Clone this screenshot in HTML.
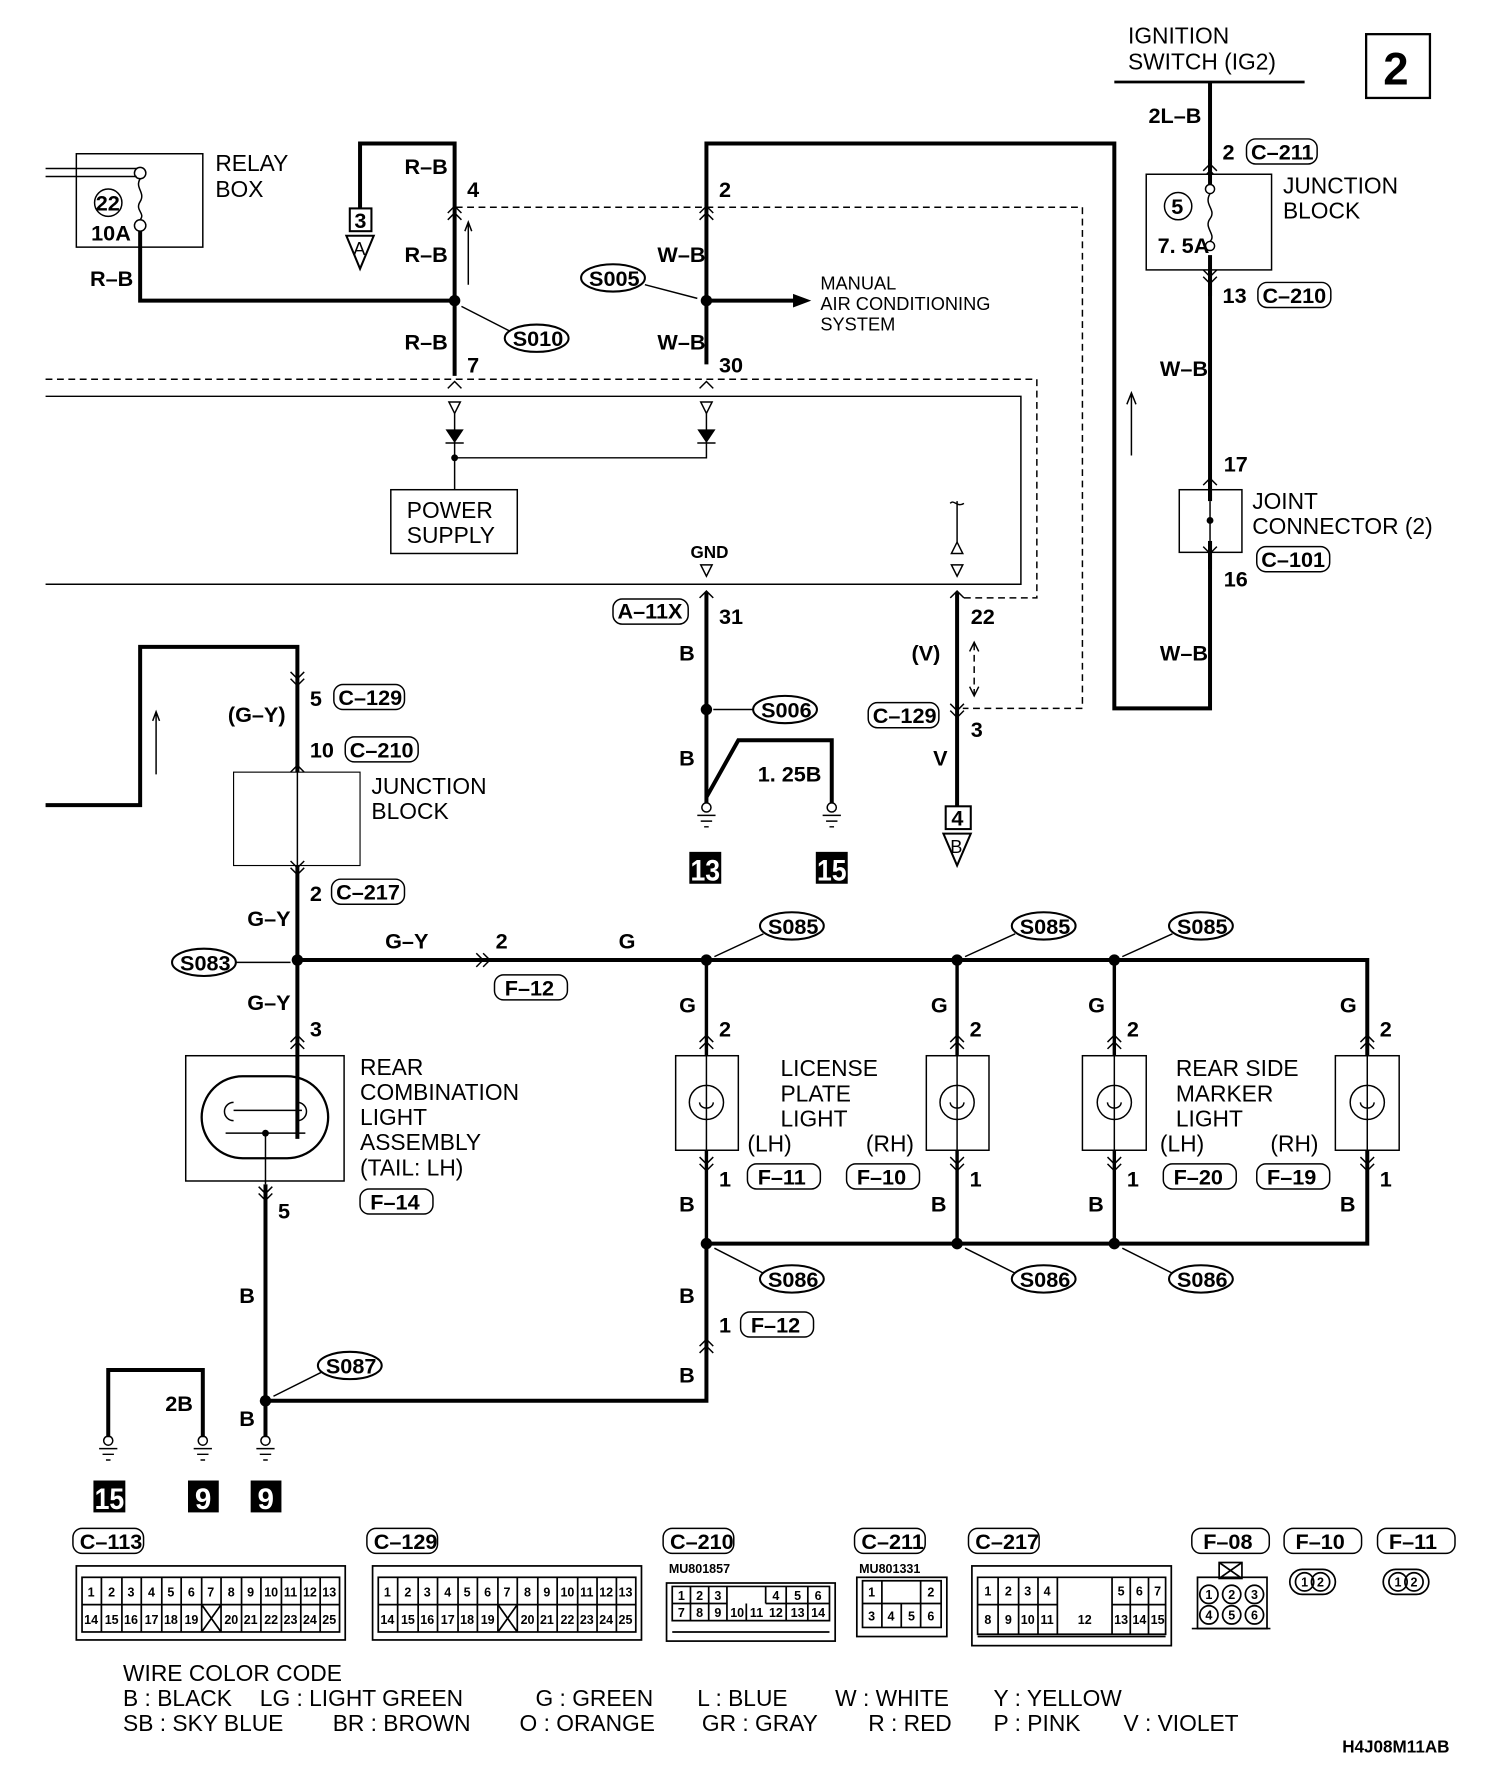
<!DOCTYPE html>
<html><head><meta charset="utf-8"><style>
html,body{margin:0;padding:0;background:#fff}
svg{display:block}
text{font-family:"Liberation Sans",sans-serif;fill:#000}
.b{font-weight:bold;font-size:19px}
.n{font-size:20px}
.s{font-size:16px}
.c{font-size:11px;font-weight:bold;text-anchor:middle}
.w{font-size:26px;font-weight:bold;fill:#fff}
.k{fill:none;stroke:#000;stroke-width:3.5}
.t{fill:none;stroke:#000;stroke-width:1.3}
.d{fill:none;stroke:#000;stroke-width:1.3;stroke-dasharray:6 4}
</style></head><body>
<svg width="1504" height="1788" viewBox="0 0 1320 1570" preserveAspectRatio="none" xmlns="http://www.w3.org/2000/svg">
<!-- top right -->
<text class="n" x="990" y="38">IGNITION</text>
<text class="n" x="990" y="61">SWITCH (IG2)</text>
<line class="k" x1="978" y1="72" x2="1145" y2="72" style="stroke-width:2.5"/>
<rect x="1199" y="30" width="56" height="56" class="t" style="stroke-width:2"/>
<text x="1214" y="74" style="font-size:40px;font-weight:bold">2</text>
<path class="k" d="M1062 72V622H978V126H620V320"/>
<text class="b" x="1008" y="108">2L–B</text>
<path class="t" d="M1056 150l6-6 6 6M1056 156l6-6 6 6"/>
<text class="b" x="1073" y="140">2</text>
<rect x="1094" y="122" width="62" height="22" rx="8" class="t"/><text class="b" x="1098" y="140">C–211</text>
<rect x="1006" y="153" width="110" height="84" class="t" style="fill:#fff"/>
<line class="k" x1="1062" y1="140" x2="1062" y2="260"/>
<rect x="1055" y="162" width="14" height="62" fill="#fff"/>
<circle cx="1062" cy="166" r="4" class="t" fill="#fff"/><circle cx="1062" cy="216" r="4" class="t" fill="#fff"/>
<path class="t" d="M1062 170c-6 10 6 14 0 22s6 14 0 20"/>
<circle cx="1034" cy="181" r="12" class="t"/><text class="b" x="1028" y="188">5</text>
<text class="b" x="1016" y="222">7. 5A</text>
<text class="n" x="1126" y="170">JUNCTION</text><text class="n" x="1126" y="192">BLOCK</text>
<path class="t" d="M1056 243l6 6 6-6M1056 237l6 6 6-6"/>
<text class="b" x="1073" y="266">13</text>
<rect x="1104" y="248" width="64" height="22" rx="8" class="t"/><text class="b" x="1108" y="266">C–210</text>
<text class="b" x="1018" y="330">W–B</text>
<path class="t" d="M993 400V345M989 355l4-10 4 10"/>
<text class="b" x="1074" y="414">17</text>
<rect x="1035" y="430" width="55" height="55" class="t" fill="#fff"/>
<line class="k" x1="1062" y1="420" x2="1062" y2="500"/>
<rect x="1059" y="440" width="6" height="35" fill="#fff"/>
<line class="t" x1="1062" y1="440" x2="1062" y2="475"/>
<circle cx="1062" cy="457" r="3"/>
<path class="t" d="M1056 426l6-6 6 6M1056 480l6 6 6-6"/>
<text class="n" x="1099" y="447">JOINT</text><text class="n" x="1099" y="469">CONNECTOR (2)</text>
<rect x="1103" y="480" width="64" height="22" rx="8" class="t"/><text class="b" x="1107" y="498">C–101</text>
<text class="b" x="1074" y="515">16</text>
<text class="b" x="1018" y="580">W–B</text>
<!-- dashed -->
<path class="d" d="M400 182H950V622H845"/>
<path class="d" d="M40 333H910V525H845"/>
<!-- relay box -->
<rect x="67" y="135" width="111" height="82" class="t"/>
<path class="t" d="M40 148H120M40 155H120"/>
<circle cx="123" cy="152" r="5" class="t" fill="#fff"/><circle cx="123" cy="198" r="5" class="t" fill="#fff"/>
<path class="t" d="M123 157c-5 8 5 12 0 20s5 10 0 16"/>
<circle cx="95" cy="178" r="12" class="t"/><text class="b" x="84" y="185">22</text>
<text class="b" x="80" y="211">10A</text>
<text class="n" x="189" y="150">RELAY</text><text class="n" x="189" y="173">BOX</text>
<path class="k" d="M123 203V264H399"/>
<text class="b" x="79" y="251">R–B</text>
<path class="k" d="M399 330V126H316V183"/>
<rect x="307" y="183" width="19" height="20" class="t" style="stroke-width:1.8" fill="#fff"/><text class="b" x="311" y="200">3</text>
<path class="t" d="M304 207H328L316 236Z" style="stroke-width:1.8"/><text class="s" x="310" y="224">A</text>
<text class="b" x="355" y="153">R–B</text><text class="b" x="355" y="230">R–B</text><text class="b" x="355" y="307">R–B</text>
<text class="b" x="410" y="173">4</text><text class="b" x="410" y="327">7</text>
<path class="t" d="M393 187l6-6 6 6M393 193l6-6 6 6"/>
<path class="t" d="M411 250V195M408 203l3-8 3 8"/>
<circle cx="399" cy="264" r="5"/>
<ellipse cx="471" cy="297" rx="28" ry="12" class="t" style="stroke-width:1.8"/><text class="b" x="450" y="304">S010</text>
<path class="t" d="M448 291L405 269"/>
<path class="t" d="M393 341l6-6 6 6M614 341l6-6 6 6"/>
<!-- S005 -->
<text class="b" x="631" y="173">2</text>
<path class="t" d="M614 187l6-6 6 6M614 193l6-6 6 6"/>
<text class="b" x="577" y="230">W–B</text><text class="b" x="577" y="307">W–B</text>
<text class="b" x="631" y="327">30</text>
<circle cx="620" cy="264" r="5"/>
<path class="k" d="M620 264H698"/><path d="M696 258L712 264L696 270Z"/>
<ellipse cx="538" cy="244" rx="28" ry="12" class="t" style="stroke-width:1.8"/><text class="b" x="517" y="251">S005</text>
<path class="t" d="M566 250L612 262"/>
<text class="s" x="720" y="254">MANUAL</text><text class="s" x="720" y="272">AIR CONDITIONING</text><text class="s" x="720" y="290">SYSTEM</text>
<!-- ECU -->
<path class="t" d="M40 348H896V513H40"/>
<path class="t" d="M394 353h10l-5 10zM615 353h10l-5 10z"/>
<path class="t" d="M399 363V430M620 363V402H399"/>
<path d="M391 377h16l-8 12zM612 377h16l-8 12z"/><path class="t" d="M391 389h16M612 389h16"/>
<circle cx="399" cy="402" r="3"/>
<rect x="343" y="430" width="111" height="56" class="t"/>
<text class="n" x="357" y="455">POWER</text><text class="n" x="357" y="477">SUPPLY</text>
<text class="b" x="606" y="490" style="font-size:15px">GND</text>
<path class="t" d="M615 496h10l-5 10zM835 496h10l-5 10zM835 486h10l-5-10z"/>
<path class="t" d="M840 476V440M834 442c3-4 6 4 12 0"/>
<!-- GND 31 -->
<path class="t" d="M614 525l6-6 6 6M834 525l6-6 6 6"/>
<path class="k" d="M620 520V623L620 705M620 700L648 650H730V705"/>
<rect x="538" y="526" width="66" height="22" rx="8" class="t"/><text class="b" x="542" y="543">A–11X</text>
<text class="b" x="631" y="548">31</text>
<text class="b" x="596" y="580">B</text><text class="b" x="596" y="672">B</text>
<circle cx="620" cy="623" r="5"/>
<ellipse cx="689" cy="623" rx="28" ry="12" class="t" style="stroke-width:1.8"/><text class="b" x="668" y="630">S006</text>
<path class="t" d="M661 623H626"/>
<text class="b" x="665" y="686">1. 25B</text>
<g class="t"><circle cx="620" cy="709" r="4"/><path d="M612 716h16M615 721h10M618 726h4"/><circle cx="730" cy="709" r="4"/><path d="M722 716h16M725 721h10M728 726h4"/></g>
<rect x="605" y="748" width="28" height="28"/><text class="w" x="606" y="773" textLength="26" lengthAdjust="spacingAndGlyphs">13</text>
<rect x="716" y="748" width="28" height="28"/><text class="w" x="717" y="773" textLength="26" lengthAdjust="spacingAndGlyphs">15</text>
<!-- 22 -->
<path class="k" d="M840 520V708"/>
<text class="b" x="852" y="548">22</text>
<text class="b" x="800" y="580">(V)</text>
<path class="d" d="M855 565V610"/><path class="t" d="M851 572l4-8 4 8M851 603l4 8 4-8"/>
<path class="t" d="M834 618l6 6 6-6M834 624l6 6 6-6"/>
<rect x="762" y="617" width="62" height="22" rx="8" class="t"/><text class="b" x="766" y="635">C–129</text>
<text class="b" x="852" y="647">3</text><text class="b" x="819" y="672">V</text>
<rect x="830" y="708" width="22" height="20" class="t" style="stroke-width:1.8" fill="#fff"/><text class="b" x="835" y="725">4</text>
<path class="t" d="M828 732H852L840 760Z" style="stroke-width:1.8"/><text class="s" x="834" y="749">B</text>
<!-- left junction -->
<path class="k" d="M40 707H123V568H261V1000"/>
<path class="t" d="M137 680V625M134 633l3-8 3 8"/>
<path class="t" d="M255 590l6 6 6-6M255 596l6 6 6-6"/>
<text class="b" x="272" y="620">5</text>
<rect x="293" y="601" width="62" height="22" rx="8" class="t"/><text class="b" x="297" y="619">C–129</text>
<text class="b" x="200" y="634">(G–Y)</text>
<text class="b" x="272" y="665">10</text>
<rect x="303" y="647" width="64" height="22" rx="8" class="t"/><text class="b" x="307" y="665">C–210</text>
<rect x="205" y="678" width="111" height="82" style="fill:#fff;stroke:#000;stroke-width:1"/>
<line class="t" x1="261" y1="672" x2="261" y2="770"/>
<path class="t" d="M255 678l6-6 6 6M255 756l6 6 6-6M255 762l6 6 6-6"/>
<text class="n" x="326" y="697">JUNCTION</text><text class="n" x="326" y="719">BLOCK</text>
<text class="b" x="272" y="791">2</text>
<rect x="291" y="772" width="64" height="22" rx="8" class="t"/><text class="b" x="295" y="790">C–217</text>
<text class="b" x="217" y="813">G–Y</text>
<ellipse cx="179" cy="845" rx="28" ry="12" class="t" style="stroke-width:1.8"/><text class="b" x="158" y="852">S083</text>
<path class="t" d="M207 845H255"/>
<circle cx="261" cy="843" r="5"/>
<path class="k" d="M261 843H1200V1092H620"/>
<text class="b" x="338" y="833">G–Y</text><text class="b" x="435" y="833">2</text><text class="b" x="543" y="833">G</text>
<path class="t" d="M418 837l6 6-6 6M424 837l6 6-6 6"/>
<rect x="434" y="856" width="64" height="22" rx="8" class="t"/><text class="b" x="443" y="874">F–12</text>
<g><circle cx="620" cy="843" r="5"/><circle cx="840" cy="843" r="5"/><circle cx="978" cy="843" r="5"/>
<circle cx="620" cy="1092" r="5"/><circle cx="840" cy="1092" r="5"/><circle cx="978" cy="1092" r="5"/><circle cx="233" cy="1230" r="5"/></g>
<g class="t" style="stroke-width:1.8">
<ellipse cx="695" cy="813" rx="28" ry="12"/><ellipse cx="916" cy="813" rx="28" ry="12"/><ellipse cx="1054" cy="813" rx="28" ry="12"/>
<ellipse cx="695" cy="1123" rx="28" ry="12"/><ellipse cx="916" cy="1123" rx="28" ry="12"/><ellipse cx="1054" cy="1123" rx="28" ry="12"/>
<ellipse cx="307" cy="1199" rx="28" ry="12"/></g>
<text class="b" x="674" y="820">S085</text><text class="b" x="895" y="820">S085</text><text class="b" x="1033" y="820">S085</text>
<text class="b" x="674" y="1130">S086</text><text class="b" x="895" y="1130">S086</text><text class="b" x="1033" y="1130">S086</text>
<text class="b" x="286" y="1206">S087</text>
<path class="t" d="M670 820L627 840M891 820L847 840M1029 820L985 840M670 1118L627 1096M891 1118L847 1096M1029 1118L985 1096M282 1205L240 1226"/>
<!-- rear combo -->
<text class="b" x="217" y="887">G–Y</text><text class="b" x="272" y="910">3</text>
<path class="t" d="M255 915l6-6 6 6M255 921l6-6 6 6"/>
<rect x="163" y="927" width="139" height="110" class="t"/>
<rect x="177" y="945" width="111" height="72" rx="36" class="t" style="stroke-width:2"/>
<path class="t" d="M261 925V975M233 995V1040M205 975h60M205 968a8 8 0 0 0 0 16M261 968a8 8 0 0 1 0 16M198 995h70"/>
<circle cx="233" cy="995" r="3"/>
<text class="n" x="316" y="944">REAR</text><text class="n" x="316" y="966">COMBINATION</text><text class="n" x="316" y="988">LIGHT</text><text class="n" x="316" y="1010">ASSEMBLY</text><text class="n" x="316" y="1032">(TAIL: LH)</text>
<rect x="316" y="1044" width="64" height="22" rx="8" class="t"/><text class="b" x="325" y="1062">F–14</text>
<path class="t" d="M227 1042l6 6 6-6M227 1048l6 6 6-6"/>
<path class="k" d="M233 1040V1262M233 1230H620V1092"/>
<text class="b" x="244" y="1070">5</text><text class="b" x="210" y="1144">B</text><text class="b" x="210" y="1252">B</text>
<path class="k" d="M95 1262V1203H178V1262"/>
<text class="b" x="145" y="1239">2B</text>
<g class="t"><circle cx="95" cy="1265" r="4"/><path d="M87 1272h16M90 1277h10M93 1282h4"/><circle cx="178" cy="1265" r="4"/><path d="M170 1272h16M173 1277h10M176 1282h4"/><circle cx="233" cy="1265" r="4"/><path d="M225 1272h16M228 1277h10M231 1282h4"/></g>
<rect x="82" y="1300" width="28" height="28"/><text class="w" x="83" y="1325" textLength="26" lengthAdjust="spacingAndGlyphs">15</text>
<rect x="165" y="1300" width="27" height="28"/><text class="w" x="171" y="1325">9</text>
<rect x="220" y="1300" width="27" height="28"/><text class="w" x="226" y="1325">9</text>
<text class="b" x="596" y="1144">B</text><text class="b" x="596" y="1214">B</text><text class="b" x="631" y="1170">1</text>
<rect x="650" y="1152" width="64" height="22" rx="8" class="t"/><text class="b" x="659" y="1170">F–12</text>
<path class="t" d="M614 1182l6-6 6 6M614 1188l6-6 6 6"/>
<!-- lamps -->
<g>
<path class="k" d="M620 843V1092M840 843V1092M978 843V1092M1200 843V1092" style="stroke-width:3"/>
<g class="t" style="fill:#fff">
<rect x="593" y="927" width="55" height="83"/><rect x="813" y="927" width="55" height="83"/><rect x="950" y="927" width="56" height="83"/><rect x="1172" y="927" width="56" height="83"/>
<circle cx="620" cy="968" r="15"/><circle cx="840" cy="968" r="15"/><circle cx="978" cy="968" r="15"/><circle cx="1200" cy="968" r="15"/>
</g>
<path class="t" d="M620 927V1010M840 927V1010M978 927V1010M1200 927V1010M614 968a6 5 0 1 0 12 0M834 968a6 5 0 1 0 12 0M972 968a6 5 0 1 0 12 0M1194 968a6 5 0 1 0 12 0"/>
<path class="t" d="M614 915l6-6 6 6M614 921l6-6 6 6M834 915l6-6 6 6M834 921l6-6 6 6M972 915l6-6 6 6M972 921l6-6 6 6M1194 915l6-6 6 6M1194 921l6-6 6 6M614 1016l6 6 6-6M614 1022l6 6 6-6M834 1016l6 6 6-6M834 1022l6 6 6-6M972 1016l6 6 6-6M972 1022l6 6 6-6M1194 1016l6 6 6-6M1194 1022l6 6 6-6"/>
</g>
<text class="b" x="596" y="889">G</text><text class="b" x="817" y="889">G</text><text class="b" x="955" y="889">G</text><text class="b" x="1176" y="889">G</text>
<text class="b" x="631" y="910">2</text><text class="b" x="851" y="910">2</text><text class="b" x="989" y="910">2</text><text class="b" x="1211" y="910">2</text>
<text class="b" x="631" y="1042">1</text><text class="b" x="851" y="1042">1</text><text class="b" x="989" y="1042">1</text><text class="b" x="1211" y="1042">1</text>
<text class="b" x="596" y="1064">B</text><text class="b" x="817" y="1064">B</text><text class="b" x="955" y="1064">B</text><text class="b" x="1176" y="1064">B</text>
<text class="n" x="685" y="945">LICENSE</text><text class="n" x="685" y="967">PLATE</text><text class="n" x="685" y="989">LIGHT</text>
<text class="n" x="656" y="1011">(LH)</text><text class="n" x="760" y="1011">(RH)</text>
<rect x="656" y="1022" width="64" height="22" rx="8" class="t"/><text class="b" x="665" y="1040">F–11</text>
<rect x="743" y="1022" width="64" height="22" rx="8" class="t"/><text class="b" x="752" y="1040">F–10</text>
<text class="n" x="1032" y="945">REAR SIDE</text><text class="n" x="1032" y="967">MARKER</text><text class="n" x="1032" y="989">LIGHT</text>
<text class="n" x="1018" y="1011">(LH)</text><text class="n" x="1115" y="1011">(RH)</text>
<rect x="1021" y="1022" width="64" height="22" rx="8" class="t"/><text class="b" x="1030" y="1040">F–20</text>
<rect x="1103" y="1022" width="64" height="22" rx="8" class="t"/><text class="b" x="1112" y="1040">F–19</text>
<!-- connector legends -->
<g class="t">
<rect x="64" y="1342" width="62" height="22" rx="8"/><rect x="322" y="1342" width="62" height="22" rx="8"/><rect x="582" y="1342" width="62" height="22" rx="8"/><rect x="750" y="1342" width="62" height="22" rx="8"/><rect x="850" y="1342" width="62" height="22" rx="8"/><rect x="1046" y="1342" width="68" height="22" rx="8"/><rect x="1127" y="1342" width="68" height="22" rx="8"/><rect x="1209" y="1342" width="68" height="22" rx="8"/>
</g>
<text class="b" x="70" y="1360">C–113</text><text class="b" x="328" y="1360">C–129</text><text class="b" x="588" y="1360">C–210</text><text class="b" x="756" y="1360">C–211</text><text class="b" x="856" y="1360">C–217</text><text class="b" x="1056" y="1360">F–08</text><text class="b" x="1137" y="1360">F–10</text><text class="b" x="1219" y="1360">F–11</text>
<text x="587" y="1381" style="font-size:11px;font-weight:bold">MU801857</text>
<text x="754" y="1381" style="font-size:11px;font-weight:bold">MU801331</text>
<g class="t" style="stroke-width:1.5">
<rect x="67" y="1375" width="236" height="65"/><rect x="72" y="1385" width="226" height="48"/><path d="M72 1409h226M89 1385v48M107 1385v48M124 1385v48M142 1385v48M159 1385v48M177 1385v48M194 1385v48M212 1385v48M229 1385v48M247 1385v48M264 1385v48M281 1385v48M177 1409l17 24M194 1409l-17 24"/>
<rect x="327" y="1375" width="236" height="65"/><rect x="332" y="1385" width="226" height="48"/><path d="M332 1409h226M349 1385v48M367 1385v48M384 1385v48M402 1385v48M419 1385v48M437 1385v48M454 1385v48M472 1385v48M489 1385v48M507 1385v48M524 1385v48M541 1385v48M437 1409l17 24M454 1409l-17 24"/>
<rect x="585" y="1390" width="148" height="51"/><path d="M590 1393h138v30H590zM590 1408h48M638 1393v15M672 1393v15M672 1408h56M606 1393v30M622 1393v30M638 1408v15M655 1408v15M690 1393v30M709 1393v30M607 1408v0M590 1433h138"/>
<rect x="752" y="1385" width="79" height="52"/><path d="M757 1388h69v41h-69zM757 1408h69M774 1388v41M791 1408v21M808 1388v41"/>
<rect x="853" y="1375" width="175" height="70"/><path d="M858 1385h165v50h-165zM858 1409h70M976 1409h47M876 1385v50M894 1385v50M911 1385v50M928 1385v50M976 1385v50M992 1385v50M1008 1385v50M858 1437h165"/>
<rect x="1051" y="1385" width="61" height="45"/><rect x="1070" y="1372" width="20" height="14"/><path d="M1070 1372l20 14M1090 1372l-20 14M1046 1430h69"/>
<rect x="1132" y="1378" width="40" height="22" rx="11"/><rect x="1214" y="1378" width="40" height="22" rx="11"/>
<circle cx="1145" cy="1389" r="8"/><circle cx="1159" cy="1389" r="8"/><circle cx="1227" cy="1389" r="8"/><circle cx="1241" cy="1389" r="8"/>
<circle cx="1061" cy="1400" r="8"/><circle cx="1081" cy="1400" r="8"/><circle cx="1101" cy="1400" r="8"/><circle cx="1061" cy="1418" r="8"/><circle cx="1081" cy="1418" r="8"/><circle cx="1101" cy="1418" r="8"/>
</g>
<g class="c">
<text x="80" y="1402">1</text><text x="98" y="1402">2</text><text x="115" y="1402">3</text><text x="133" y="1402">4</text><text x="150" y="1402">5</text><text x="168" y="1402">6</text><text x="185" y="1402">7</text><text x="203" y="1402">8</text><text x="220" y="1402">9</text><text x="238" y="1402">10</text><text x="255" y="1402">11</text><text x="272" y="1402">12</text><text x="289" y="1402">13</text>
<text x="80" y="1426">14</text><text x="98" y="1426">15</text><text x="115" y="1426">16</text><text x="133" y="1426">17</text><text x="150" y="1426">18</text><text x="168" y="1426">19</text><text x="203" y="1426">20</text><text x="220" y="1426">21</text><text x="238" y="1426">22</text><text x="255" y="1426">23</text><text x="272" y="1426">24</text><text x="289" y="1426">25</text>
<text x="340" y="1402">1</text><text x="358" y="1402">2</text><text x="375" y="1402">3</text><text x="393" y="1402">4</text><text x="410" y="1402">5</text><text x="428" y="1402">6</text><text x="445" y="1402">7</text><text x="463" y="1402">8</text><text x="480" y="1402">9</text><text x="498" y="1402">10</text><text x="515" y="1402">11</text><text x="532" y="1402">12</text><text x="549" y="1402">13</text>
<text x="340" y="1426">14</text><text x="358" y="1426">15</text><text x="375" y="1426">16</text><text x="393" y="1426">17</text><text x="410" y="1426">18</text><text x="428" y="1426">19</text><text x="463" y="1426">20</text><text x="480" y="1426">21</text><text x="498" y="1426">22</text><text x="515" y="1426">23</text><text x="532" y="1426">24</text><text x="549" y="1426">25</text>
<text x="598" y="1405">1</text><text x="614" y="1405">2</text><text x="630" y="1405">3</text><text x="681" y="1405">4</text><text x="700" y="1405">5</text><text x="718" y="1405">6</text>
<text x="598" y="1420">7</text><text x="614" y="1420">8</text><text x="630" y="1420">9</text><text x="647" y="1420">10</text><text x="664" y="1420">11</text><text x="681" y="1420">12</text><text x="700" y="1420">13</text><text x="718" y="1420">14</text>
<text x="765" y="1402">1</text><text x="817" y="1402">2</text><text x="765" y="1423">3</text><text x="782" y="1423">4</text><text x="800" y="1423">5</text><text x="817" y="1423">6</text>
<text x="867" y="1401">1</text><text x="885" y="1401">2</text><text x="902" y="1401">3</text><text x="919" y="1401">4</text><text x="984" y="1401">5</text><text x="1000" y="1401">6</text><text x="1016" y="1401">7</text>
<text x="867" y="1426">8</text><text x="885" y="1426">9</text><text x="902" y="1426">10</text><text x="919" y="1426">11</text><text x="952" y="1426">12</text><text x="968" y="1426"></text><text x="984" y="1426">13</text><text x="1000" y="1426">14</text><text x="1016" y="1426">15</text>
<text x="1061" y="1404">1</text><text x="1081" y="1404">2</text><text x="1101" y="1404">3</text><text x="1061" y="1422">4</text><text x="1081" y="1422">5</text><text x="1101" y="1422">6</text>
<text x="1145" y="1393">1</text><text x="1159" y="1393">2</text><text x="1227" y="1393">1</text><text x="1241" y="1393">2</text>
</g>
<text class="n" x="108" y="1476">WIRE COLOR CODE</text>
<g class="n">
<text class="n" x="108" y="1498">B : BLACK</text><text class="n" x="228" y="1498">LG : LIGHT GREEN</text><text class="n" x="470" y="1498">G : GREEN</text><text class="n" x="612" y="1498">L : BLUE</text><text class="n" x="733" y="1498">W : WHITE</text><text class="n" x="872" y="1498">Y : YELLOW</text>
<text class="n" x="108" y="1520">SB : SKY BLUE</text><text class="n" x="292" y="1520">BR : BROWN</text><text class="n" x="456" y="1520">O : ORANGE</text><text class="n" x="616" y="1520">GR : GRAY</text><text class="n" x="762" y="1520">R : RED</text><text class="n" x="872" y="1520">P : PINK</text><text class="n" x="986" y="1520">V : VIOLET</text>
</g>
<text x="1178" y="1539" style="font-size:15px;font-weight:bold">H4J08M11AB</text>
</svg>
</body></html>
